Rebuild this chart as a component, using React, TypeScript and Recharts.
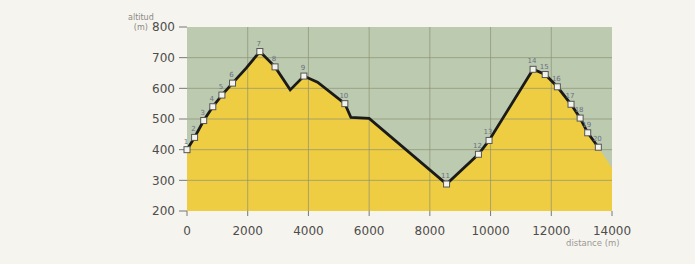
import {
  ComposedChart,
  Area,
  Line,
  XAxis,
  YAxis,
  CartesianGrid,
  ReferenceLine,
} from "recharts";

// profile points (distance in m, altitude in m); "" = no waypoint marker
const distances = [0, 250, 550, 850, 1150, 1500, 1950, 2400, 2900, 3400, 3850, 4300, 5200, 5400, 6000, 8550, 9600, 9950, 11400, 11800, 12200, 12650, 12950, 13200, 13550, 14000];
const altitudes = [400, 440, 495, 540, 578, 617, 666, 720, 670, 595, 640, 620, 550, 505, 502, 288, 385, 430, 662, 645, 605, 548, 503, 455, 408, 340];
const waypoints = ["1", "2", "3", "4", "5", "6", "", "7", "8", "", "9", "", "10", "", "", "11", "12", "13", "14", "15", "16", "17", "18", "19", "20", ""];
const routeEnd = 13550;

const xTicks = [0, 2000, 4000, 6000, 8000, 10000, 12000, 14000];
const yTicks = [200, 300, 400, 500, 600, 700, 800];
const xGrid = [2000, 4000, 6000, 8000, 10000, 12000];
const yGrid = [300, 400, 500, 600, 700];

const data = distances.map((d, i) => ({
  dist: d,
  ground: altitudes[i],
  route: d <= routeEnd ? altitudes[i] : null,
  wp: waypoints[i],
}));

const tickStyle = { fontSize: 12, fill: "#4d4d4a", fontFamily: "DejaVu Sans" };

function Waypoint(props: any) {
  const { cx, cy, payload, index } = props;
  if (!payload || !payload.wp || cx == null || cy == null) return <g key={`wp-${index}`} />;
  return (
    <g key={`wp-${index}`}>
      <rect x={cx - 3} y={cy - 3} width={6} height={6} fill="#f4f4ee" stroke="#555" strokeWidth={1} />
      <text x={cx - 1} y={cy - 6} fontSize={7} fill="#6a7080" textAnchor="middle" fontFamily="DejaVu Sans">
        {payload.wp}
      </text>
    </g>
  );
}

export default function App() {
  return (
    <div
      style={{
        position: "absolute",
        left: 0,
        top: 0,
        width: 695,
        height: 264,
        background: "#f6f4ef",
      }}
    >
      <div style={{ position: "absolute", left: 128, top: 13, fontSize: 8, color: "#8a8985", fontFamily: "DejaVu Sans", lineHeight: "10px", textAlign: "center" }}>
        altitud
        <br />
        (m)
      </div>
      <div style={{ position: "absolute", left: 566, top: 238, fontSize: 8.5, color: "#9a9995", fontFamily: "DejaVu Sans" }}>
        distance (m)
      </div>
      <ComposedChart
        width={695}
        height={264}
        data={data}
        margin={{ top: 27, right: 83, left: 142, bottom: 33 }}
      >
        <CartesianGrid fill="#bccab0" fillOpacity={1} stroke="none" horizontal={false} vertical={false} />
        <XAxis
          type="number"
          dataKey="dist"
          domain={[0, 14000]}
          ticks={xTicks}
          axisLine={false}
          tickLine={{ stroke: "#777" }}
          tickSize={5}
          tickMargin={10}
          tick={tickStyle}
          height={20}
        />
        <YAxis
          type="number"
          domain={[200, 800]}
          ticks={yTicks}
          axisLine={false}
          tickLine={{ stroke: "#777" }}
          tickSize={8}
          tickMargin={4}
          tick={tickStyle}
          width={45}
        />
        <Area
          type="linear"
          dataKey="ground"
          stroke="none"
          fill="#efcd42"
          fillOpacity={1}
          isAnimationActive={false}
        />
        {yGrid.map((v) => (
          <ReferenceLine key={`h${v}`} y={v} stroke="#8d9170" strokeOpacity={0.7} />
        ))}
        {xGrid.map((v) => (
          <ReferenceLine key={`v${v}`} x={v} stroke="#8d9170" strokeOpacity={0.7} />
        ))}
        <Line
          type="linear"
          dataKey="route"
          stroke="#1a1a18"
          strokeWidth={2.8}
          dot={Waypoint}
          activeDot={false}
          connectNulls={false}
          isAnimationActive={false}
        />
      </ComposedChart>
    </div>
  );
}
